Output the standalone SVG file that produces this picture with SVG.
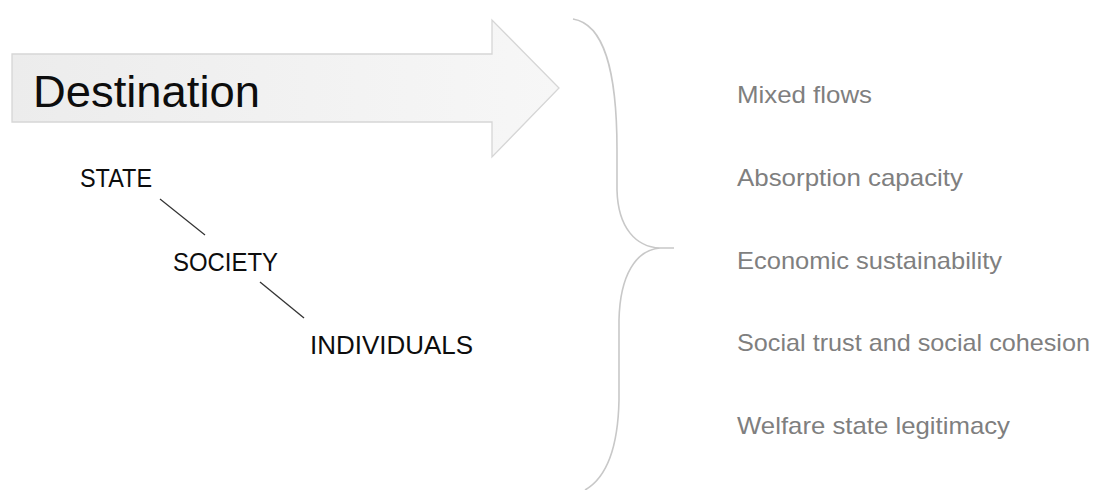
<svg xmlns="http://www.w3.org/2000/svg" width="1094" height="490" viewBox="0 0 1094 490">
<defs>
<linearGradient id="arrowFill" x1="0" y1="0" x2="1" y2="0">
<stop offset="0" stop-color="#ececec"/>
<stop offset="1" stop-color="#f7f7f7"/>
</linearGradient>
<style>
.lvl{font-family:"Liberation Sans",Arial,sans-serif;font-size:25px;fill:#0d0d0d}
.item{font-family:"Liberation Sans",Arial,sans-serif;font-size:24px;fill:#7f7f7f}
.link{stroke:#333333;stroke-width:1.3;fill:none}
</style>
</defs>
<rect width="1094" height="490" fill="#ffffff"/>
<g id="destination">
<path d="M12,54 L492,54 L492,20 L559,88 L492,157 L492,122 L12,122 Z" fill="url(#arrowFill)" stroke="#d6d6d6" stroke-width="1.3"/>
<text x="33" y="107" font-family="Liberation Sans, Arial, sans-serif" font-size="45" fill="#0d0d0d" textLength="227" lengthAdjust="spacingAndGlyphs">Destination</text>
</g>
<g id="state"><text class="lvl" x="80" y="187" textLength="72" lengthAdjust="spacingAndGlyphs">STATE</text></g>
<g id="society"><text class="lvl" x="173" y="271" textLength="105" lengthAdjust="spacingAndGlyphs">SOCIETY</text></g>
<g id="individuals"><text class="lvl" x="310" y="354" textLength="163" lengthAdjust="spacingAndGlyphs">INDIVIDUALS</text></g>
<g id="connectors">
<line class="link" x1="160" y1="199" x2="205" y2="235"/>
<line class="link" x1="260" y1="282" x2="304" y2="318"/>
</g>
<g id="brace">
<path d="M573,19 C604,24 617,70 617,150 L617,190 C618,228 636,247 660,248 L674,248 M660,248 C636,250 620,275 619,320 L619,400 C618,448 606,478 585,490" fill="none" stroke="#c8c8c8" stroke-width="1.6"/>
</g>
<g id="item-mixed-flows"><text class="item" x="737" y="103" textLength="135" lengthAdjust="spacingAndGlyphs">Mixed flows</text></g>
<g id="item-absorption"><text class="item" x="737" y="186" textLength="226" lengthAdjust="spacingAndGlyphs">Absorption capacity</text></g>
<g id="item-economic"><text class="item" x="737" y="269" textLength="265" lengthAdjust="spacingAndGlyphs">Economic sustainability</text></g>
<g id="item-social"><text class="item" x="737" y="351" textLength="353" lengthAdjust="spacingAndGlyphs">Social trust and social cohesion</text></g>
<g id="item-welfare"><text class="item" x="737" y="434" textLength="273" lengthAdjust="spacingAndGlyphs">Welfare state legitimacy</text></g>
</svg>
